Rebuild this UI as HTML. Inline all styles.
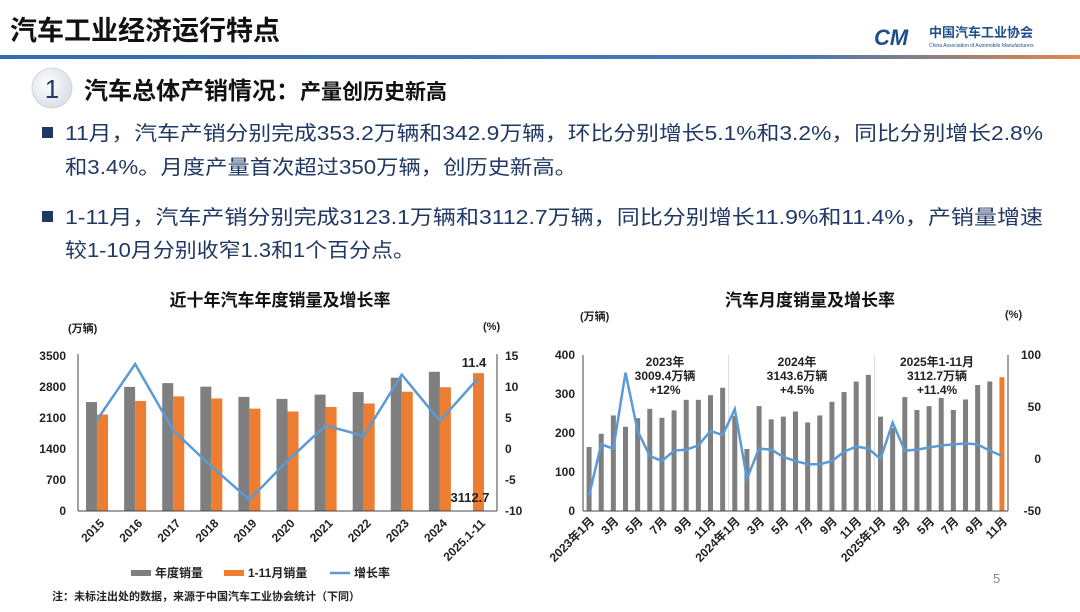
<!DOCTYPE html>
<html><head><meta charset="utf-8">
<style>
html,body{margin:0;padding:0;background:#fff;}
body{width:1080px;height:607px;overflow:hidden;position:relative;font-family:"Liberation Sans","Noto Sans CJK SC",sans-serif;}
svg text{font-family:"Liberation Sans","Noto Sans CJK SC",sans-serif;}
</style></head><body>
<svg id="s" width="1080" height="607" viewBox="0 0 1080 607" xmlns="http://www.w3.org/2000/svg">
<defs>
<linearGradient id="bar" x1="0" x2="1"><stop offset="0" stop-color="#2e6db4"/><stop offset="0.75" stop-color="#4a78b0"/><stop offset="1" stop-color="#e0894a"/></linearGradient>
<radialGradient id="circ" cx="0.4" cy="0.4" r="0.7"><stop offset="0" stop-color="#ffffff"/><stop offset="1" stop-color="#d5dbe3"/></radialGradient>
</defs>
<text x="10" y="40" font-size="27" font-weight="bold" fill="#111">汽车工业经济运行特点</text>
<text x="874" y="45" font-size="22" font-weight="bold" fill="#1f4e8c" font-style="italic">CM</text>
<text x="929" y="37" font-size="13" font-weight="bold" fill="#1f4e8c">中国汽车工业协会</text>
<text x="929" y="47" font-size="5" fill="#1f4e8c">China Association of Automobile Manufacturers</text>
<rect x="0" y="55" width="1080" height="4" fill="url(#bar)"/>
<circle cx="52" cy="88" r="20" fill="url(#circ)" stroke="#cfd6df"/>
<text x="52" y="98" font-size="26" text-anchor="middle" fill="#1f3864">1</text>
<text x="84" y="99" font-size="24" font-weight="bold" fill="#111">汽车总体产销情况：<tspan font-size="21">产量创历史新高</tspan></text>
<g fill="#1f3864" font-size="20">
<rect x="42" y="127" width="11" height="11"/>
<text x="65" y="140" textLength="978" lengthAdjust="spacingAndGlyphs">11月，汽车产销分别完成353.2万辆和342.9万辆，环比分别增长5.1%和3.2%，同比分别增长2.8%</text>
<text x="65" y="174" textLength="512" lengthAdjust="spacingAndGlyphs">和3.4%。月度产量首次超过350万辆，创历史新高。</text>
<rect x="42" y="211" width="11" height="11"/>
<text x="65" y="224" textLength="978" lengthAdjust="spacingAndGlyphs">1-11月，汽车产销分别完成3123.1万辆和3112.7万辆，同比分别增长11.9%和11.4%，产销量增速</text>
<text x="65" y="257" textLength="350" lengthAdjust="spacingAndGlyphs">较1-10月分别收窄1.3和1个百分点。</text>
</g>
<g id="c1"></g><g id="c2"></g>
<text x="52" y="600" font-size="11" font-weight="bold" fill="#222">注：未标注出处的数据，来源于中国汽车工业协会统计（下同）</text>
<text x="993" y="583" font-size="13" fill="#888">5</text>
</svg>
<script>
var NS="http://www.w3.org/2000/svg";
function el(p,t,a,txt){var e=document.createElementNS(NS,t);for(var k in a)e.setAttribute(k,a[k]);if(txt!==undefined)e.textContent=txt;p.appendChild(e);return e;}
var g=document.getElementById('c1');
el(g,'text',{x:280,y:306,'font-size':17,'font-weight':'bold','text-anchor':'middle',fill:'#111'},'近十年汽车年度销量及增长率');
el(g,'text',{x:68,y:332,'font-size':11,'font-weight':'bold',fill:'#222'},'(万辆)');
el(g,'text',{x:483,y:330,'font-size':11,'font-weight':'bold',fill:'#222'},'(%)');
var L=78,R=497,T=356,B=511;
var yr=['2015','2016','2017','2018','2019','2020','2021','2022','2023','2024','2025.1-11'];
var an=[2460,2803,2888,2808,2577,2531,2628,2686,3009,3144,null];
var ym=[2178,2484,2588,2541,2311,2247,2349,2428,2694,2794,3112.7];
var gr=[4.7,13.7,3.0,-2.8,-8.2,-1.9,3.8,2.1,12,4.5,11.4];
var cw=(R-L)/11;
function y1(v){return B-v/3500*(B-T);} function y2(v){return B-(v+10)/25*(B-T);}
for(var i=0;i<=5;i++){var v=i*700;el(g,'text',{x:66,y:y1(v)+4,'font-size':12,'font-weight':'bold','text-anchor':'end',fill:'#222'},String(v));}
[15,10,5,0,-5,-10].forEach(function(v){el(g,'text',{x:505,y:y2(v)+4,'font-size':12,'font-weight':'bold',fill:'#222'},String(v));});
var pts=[];
for(var i=0;i<11;i++){var c=L+cw*(i+0.5);
 if(an[i])el(g,'rect',{x:c-11,y:y1(an[i]),width:11,height:B-y1(an[i]),fill:'#7f7f7f'});
 el(g,'rect',{x:i==10?c-5:c,y:y1(ym[i]),width:11,height:B-y1(ym[i]),fill:'#ed7d31'});
 pts.push(c+','+y2(gr[i]));
 el(g,'text',{transform:'translate('+(c+8)+','+(B+13)+') rotate(-45)','font-size':12,'font-weight':'bold','text-anchor':'end',fill:'#222'},yr[i]);
}
el(g,'polyline',{points:pts.join(' '),fill:'none',stroke:'#5b9bd5','stroke-width':2.5});
el(g,'line',{x1:L,y1:T-2,x2:L,y2:B,stroke:'#444','stroke-width':1});
el(g,'line',{x1:R,y1:T-2,x2:R,y2:B,stroke:'#444','stroke-width':1});
el(g,'line',{x1:L,y1:B,x2:R,y2:B,stroke:'#444','stroke-width':1});
el(g,'text',{x:474,y:367,'font-size':13,'font-weight':'bold','text-anchor':'middle',fill:'#222'},'11.4');
el(g,'text',{x:470,y:502,'font-size':13,'font-weight':'bold','text-anchor':'middle',fill:'#222'},'3112.7');
el(g,'rect',{x:131,y:570,width:20,height:6,fill:'#7f7f7f'});
el(g,'text',{x:155,y:577,'font-size':12,'font-weight':'bold',fill:'#222'},'年度销量');
el(g,'rect',{x:224,y:570,width:20,height:6,fill:'#ed7d31'});
el(g,'text',{x:248,y:577,'font-size':12,'font-weight':'bold',fill:'#222'},'1-11月销量');
el(g,'line',{x1:330,y1:573,x2:350,y2:573,stroke:'#5b9bd5','stroke-width':2.5});
el(g,'text',{x:354,y:577,'font-size':12,'font-weight':'bold',fill:'#222'},'增长率');
g=document.getElementById('c2');
el(g,'text',{x:810,y:306,'font-size':17,'font-weight':'bold','text-anchor':'middle',fill:'#111'},'汽车月度销量及增长率');
el(g,'text',{x:580,y:320,'font-size':11,'font-weight':'bold',fill:'#222'},'(万辆)');
el(g,'text',{x:1005,y:318,'font-size':11,'font-weight':'bold',fill:'#222'},'(%)');
L=583;R=1008;T=355;B=511;
var s=[164,198,245,216,238,262,239,258,285,285,297,316,244,159,269,235,242,255,227,245,280,305,332,349,242,213,292,259,269,290,259,286,323,332,343];
var r=[-35,14,10,83,27,3,-2,8,9,13,27,23,48,-19,10,9,2,-2,-5,-5,-2,7,12,10,0,35,8,9,11,13,14,15,14,8,3];
var n=35;cw=(R-L)/n;
function z1(v){return B-v/400*(B-T);} function z2(v){return B-(v+50)/150*(B-T);}
[0,100,200,300,400].forEach(function(v){el(g,'text',{x:575,y:z1(v)+4,'font-size':12,'font-weight':'bold','text-anchor':'end',fill:'#222'},String(v));});
[100,50,0,-50].forEach(function(v){el(g,'text',{x:1041,y:z2(v)+4,'font-size':12,'font-weight':'bold','text-anchor':'end',fill:'#222'},String(v));});
el(g,'line',{x1:L+cw*12,y1:T,x2:L+cw*12,y2:B,stroke:'#ccc','stroke-width':0.7});
el(g,'line',{x1:L+cw*24,y1:T,x2:L+cw*24,y2:B,stroke:'#ccc','stroke-width':0.7});
pts=[];
var lab={0:'2023年1月',2:'3月',4:'5月',6:'7月',8:'9月',10:'11月',12:'2024年1月',14:'3月',16:'5月',18:'7月',20:'9月',22:'11月',24:'2025年1月',26:'3月',28:'5月',30:'7月',32:'9月',34:'11月'};
for(var i=0;i<n;i++){var c=L+cw*(i+0.5);
 el(g,'rect',{x:c-2.5,y:z1(s[i]),width:5,height:B-z1(s[i]),fill:i==34?'#ed7d31':'#7f7f7f'});
 pts.push(c+','+z2(r[i]));
 if(lab[i])el(g,'text',{transform:'translate('+(c+6)+','+(B+11)+') rotate(-45)','font-size':12,'font-weight':'bold','text-anchor':'end',fill:'#222'},lab[i]);
}
el(g,'polyline',{points:pts.join(' '),fill:'none',stroke:'#5b9bd5','stroke-width':2.5});
el(g,'line',{x1:L,y1:T,x2:L,y2:B,stroke:'#444','stroke-width':1});
el(g,'line',{x1:R,y1:T,x2:R,y2:B,stroke:'#444','stroke-width':1});
el(g,'line',{x1:L,y1:B,x2:R,y2:B,stroke:'#444','stroke-width':1});
function ann(x,a){a.forEach(function(t,k){el(g,'text',{x:x,y:366+k*14,'font-size':12,'font-weight':'bold','text-anchor':'middle',fill:'#222'},t);});}
ann(665,['2023年','3009.4万辆','+12%']);
ann(797,['2024年','3143.6万辆','+4.5%']);
ann(937,['2025年1-11月','3112.7万辆','+11.4%']);
</script>
</body></html>
